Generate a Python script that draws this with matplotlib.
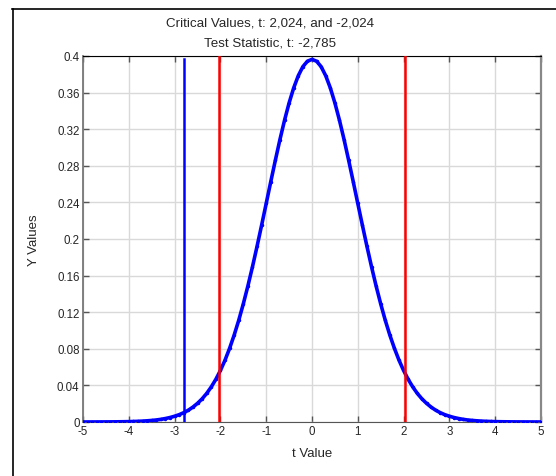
import matplotlib
matplotlib.use("Agg")
import matplotlib.pyplot as plt
from matplotlib.lines import Line2D

plt.rcParams['font.family'] = ['Liberation Sans', 'DejaVu Sans']

# t values (x), step 0.1 from -5 to 5
t_values = [round(-5 + 0.1 * i, 1) for i in range(101)]
y_values = [
    0.00002, 0.00003, 0.00004, 0.00006, 0.00008, 0.0001, 0.00013, 0.00018, 0.00024, 0.00032,
    0.00042, 0.00056, 0.00074, 0.00098, 0.0013, 0.0017, 0.0022, 0.0029, 0.0038, 0.0049,
    0.0063, 0.0080, 0.0102, 0.0129, 0.0163, 0.0204, 0.0253, 0.0312, 0.0383, 0.0466,
    0.0563, 0.0675, 0.0804, 0.0949, 0.1111, 0.1291, 0.1486, 0.1696, 0.1919, 0.2151,
    0.2388, 0.2627, 0.2861, 0.3087, 0.3297, 0.3487, 0.3651, 0.3784, 0.3883, 0.3943,
    0.3963,
    0.3943, 0.3883, 0.3784, 0.3651, 0.3487, 0.3297, 0.3087, 0.2861, 0.2627, 0.2388,
    0.2151, 0.1919, 0.1696, 0.1486, 0.1291, 0.1111, 0.0949, 0.0804, 0.0675, 0.0563,
    0.0466, 0.0383, 0.0312, 0.0253, 0.0204, 0.0163, 0.0129, 0.0102, 0.0080, 0.0063,
    0.0049, 0.0038, 0.0029, 0.0022, 0.0017, 0.0013, 0.00098, 0.00074, 0.00056, 0.00042,
    0.00032, 0.00024, 0.00018, 0.00013, 0.0001, 0.00008, 0.00006, 0.00004, 0.00003, 0.00002,
]

critical_values = [-2.024, 2.024]
test_statistic = -2.785
test_stat_top = 0.397

x_ticks = [-5, -4, -3, -2, -1, 0, 1, 2, 3, 4, 5]
y_ticks = [0, 0.04, 0.08, 0.12, 0.16, 0.2, 0.24, 0.28, 0.32, 0.36, 0.4]
y_tick_labels = ["0", "0.04", "0.08", "0.12", "0.16", "0.2", "0.24", "0.28", "0.32", "0.36", "0.4"]

title1 = "Critical Values, t: 2,024, and -2,024"
title2 = "Test Statistic, t: -2,785"

fig = plt.figure(figsize=(5.56, 4.77), dpi=100)
ax = fig.add_axes([83 / 556, 1 - 423 / 477, (541 - 83) / 556, (423 - 57) / 477])

ax.plot(t_values, y_values, color='#0000ff', lw=2.6, marker='.', ms=3, zorder=3)
for cv in critical_values:
    ax.plot([cv, cv], [0, 0.4], color='#ff0000', lw=1.8, zorder=4)
ax.plot([test_statistic, test_statistic], [0, test_stat_top], color='#0000ff', lw=1.8, zorder=4)

ax.set_xlim(-5, 5)
ax.set_ylim(0, 0.4)
ax.set_xticks(x_ticks)
ax.set_xticklabels([str(v) for v in x_ticks])
ax.set_yticks(y_ticks)
ax.set_yticklabels(y_tick_labels)
ax.grid(True, color='#d9d9d9', lw=1, zorder=0)
ax.set_axisbelow(True)

ax.tick_params(direction='in', length=4, width=1, color='#555555', labelsize=8.3,
               labelcolor='#262626', top=True, right=True, pad=2.5)

ax.spines['top'].set_color('black')
ax.spines['left'].set_color('#777777')
ax.spines['bottom'].set_color('#555555')
ax.spines['right'].set_color('#888888')
ax.spines['right'].set_linewidth(1.6)
ax.spines['left'].set_linewidth(1.3)

ax.set_xlabel("t Value", fontsize=9.5, color='#262626', labelpad=7)
fig.text(34 / 556, 1 - 240 / 477, "Y Values", rotation=90, fontsize=9.5, color='#262626',
         ha='center', va='center')

fig.text(270 / 556, 1 - 23 / 477, title1, fontsize=9.6, color='#262626', ha='center', va='center')
fig.text(270 / 556, 1 - 44 / 477, title2, fontsize=9.6, color='#262626', ha='center', va='center')

# outer window border
fig.add_artist(Line2D([12 / 556, 1], [1 - 9.5 / 477, 1 - 9.5 / 477], color='black', lw=1.2,
                      transform=fig.transFigure))
fig.add_artist(Line2D([12.5 / 556, 12.5 / 556], [0, 1 - 9.5 / 477], color='black', lw=1.2,
                      transform=fig.transFigure))

fig.savefig("out.png", dpi=100)
